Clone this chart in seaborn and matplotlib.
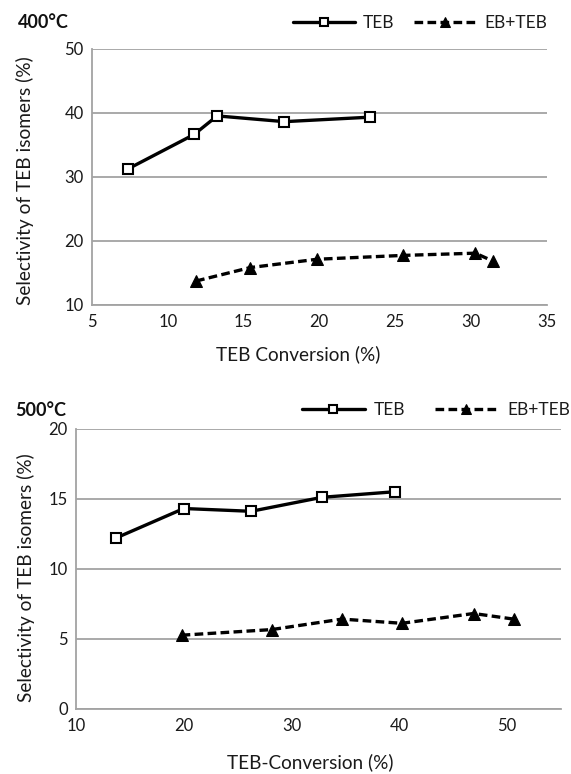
import matplotlib
matplotlib.use("Agg")
import matplotlib.pyplot as plt
import seaborn as sns
import pandas as pd

# ---- data ----
teb400_x = [7.36, 11.74, 13.26, 17.7, 23.33]
teb400_y = [31.2, 36.6, 39.5, 38.6, 39.3]
ebteb400_x = [11.87, 15.44, 19.85, 25.5, 30.3, 31.48]
ebteb400_y = [13.7, 15.8, 17.1, 17.7, 18.05, 16.8]

teb500_x = [13.73, 20.0, 26.25, 32.83, 39.63]
teb500_y = [12.2, 14.3, 14.1, 15.1, 15.5]
ebteb500_x = [19.8, 28.14, 34.68, 40.24, 46.89, 50.6]
ebteb500_y = [5.25, 5.65, 6.4, 6.1, 6.8, 6.4]

series_names = ["TEB", "EB+TEB"]
panel_titles = ["400°C", "500°C"]
xlabels = ["TEB Conversion (%)", "TEB-Conversion (%)"]
ylabel = "Selectivity of TEB isomers (%)"
xticks400 = [5, 10, 15, 20, 25, 30, 35]
yticks400 = [10, 20, 30, 40, 50]
xticks500 = [10, 20, 30, 40, 50]
yticks500 = [0, 5, 10, 15, 20]

sns.set_theme(style="white")
plt.rcParams["font.family"] = ["Lato", "DejaVu Sans"]

W, H = 571, 774
fig = plt.figure(figsize=(W / 100, H / 100), dpi=100)

GRID = "#a3a3a3"
TXT = "#1a1a1a"

def frac_axes(l, t, r, b):
    return fig.add_axes([l / W, 1 - b / H, (r - l) / W, (b - t) / H])

ax1 = frac_axes(92, 48.7, 546.5, 304.7)
ax2 = frac_axes(76, 428.7, 561, 708.7)

def draw(ax, tx, ty, ex, ey):
    d1 = pd.DataFrame({"x": tx, "y": ty})
    d2 = pd.DataFrame({"x": ex, "y": ey})
    sns.lineplot(data=d1, x="x", y="y", ax=ax, color="black", lw=2.4,
                 marker="s", markersize=7.5, markerfacecolor="white",
                 markeredgecolor="black", markeredgewidth=1.5,
                 label=series_names[0], sort=False, zorder=3)
    sns.lineplot(data=d2, x="x", y="y", ax=ax, color="black", lw=2.4,
                 marker="^", markersize=8, markerfacecolor="black",
                 markeredgecolor="black", dashes=(2.6, 1.3),
                 label=series_names[1], sort=False, zorder=3)

draw(ax1, teb400_x, teb400_y, ebteb400_x, ebteb400_y)
draw(ax2, teb500_x, teb500_y, ebteb500_x, ebteb500_y)

for ax, xt, yt, xl, yl in [(ax1, xticks400, yticks400, (5, 35), (10, 50)),
                           (ax2, xticks500, yticks500, (10, 55), (0, 20))]:
    ax.set_xlim(*xl)
    ax.set_ylim(*yl)
    ax.set_xticks(xt)
    ax.set_yticks(yt)
    ax.yaxis.grid(True, color=GRID, lw=1.3)
    ax.xaxis.grid(False)
    ax.set_axisbelow(True)
    for s in ["top", "right"]:
        ax.spines[s].set_visible(False)
    for s in ["left", "bottom"]:
        ax.spines[s].set_color(GRID)
        ax.spines[s].set_linewidth(1.3)
    ax.tick_params(axis="both", length=0, labelsize=12, colors=TXT)
    ax.tick_params(axis="x", pad=7)
    ax.tick_params(axis="y", pad=6)
    ax.set_ylabel(ylabel, fontsize=13.8, color=TXT)
    ax.yaxis.label.set_va("center")
    ax.set_xlabel("")
    if ax.get_legend() is not None:
        ax.get_legend().remove()

ax1.set_xlabel(xlabels[0], fontsize=13.7, color=TXT)
ax2.set_xlabel(xlabels[1], fontsize=13.7, color=TXT)
for ax in (ax1, ax2):
    ax.xaxis.label.set_va("center")

ax1.xaxis.set_label_coords(0.453, -50 / 256)
ax2.xaxis.set_label_coords(0.482, -54 / 280)
ax1.yaxis.set_label_coords(-0.1485, 0.483)
ax2.yaxis.set_label_coords(-0.104, 0.467)

fig.text(18 / W, 1 - 23 / H, panel_titles[0], fontsize=13, fontweight="bold",
         ha="left", va="center", color="#111111")
fig.text(15 / W, 1 - 410 / H, panel_titles[1], fontsize=13, fontweight="bold",
         ha="left", va="center", color="#111111")

def add_legend(ax, right_px, y_px, textpad, colsp):
    h, l = ax.get_legend_handles_labels()
    leg = ax.legend(h, l, ncol=2, frameon=False, loc="center right",
                    bbox_to_anchor=(right_px / W, 1 - y_px / H),
                    bbox_transform=fig.transFigure, borderaxespad=0,
                    borderpad=0, fontsize=12.5, handlelength=3.6,
                    handletextpad=textpad, columnspacing=colsp,
                    markerscale=0.85)
    for t in leg.get_texts():
        t.set_color(TXT)

add_legend(ax1, 547, 23, 0.45, 1.1)
add_legend(ax2, 570, 410, 0.55, 1.7)

fig.savefig("out.png", dpi=100, facecolor="white")
